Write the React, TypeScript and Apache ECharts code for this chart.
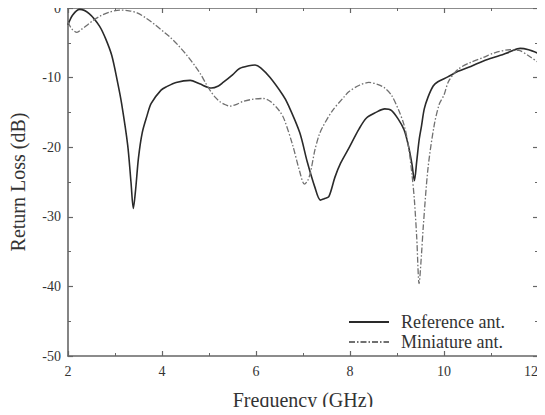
import React, { useEffect, useRef } from "react";
import * as echarts from "echarts";

const refFreq = [2.0, 2.1, 2.25, 2.45, 2.67, 2.8, 2.93, 3.05, 3.14, 3.27, 3.34, 3.39, 3.44, 3.5, 3.58, 3.68, 3.77, 3.98, 4.1, 4.3, 4.6, 4.8, 5.05, 5.2, 5.3, 5.5, 5.65, 5.85, 5.98, 6.1, 6.3, 6.57, 6.67, 6.93, 7.09, 7.25, 7.37, 7.45, 7.55, 7.68, 7.8, 7.97, 8.19, 8.35, 8.55, 8.74, 8.88, 9.03, 9.15, 9.24, 9.32, 9.37, 9.42, 9.47, 9.52, 9.58, 9.66, 9.77, 9.87, 10.08, 10.3, 10.57, 10.84, 11.2, 11.4, 11.62, 11.8, 12.0];
const refLoss = [-2.4, -1.0, -0.2, -0.8, -2.6, -4.4, -6.8, -10.5, -13.7, -19.7, -25.0, -28.8, -26.0, -21.5, -17.9, -15.5, -13.7, -11.8, -11.3, -10.7, -10.4, -10.9, -11.5, -11.2, -10.7, -9.6, -8.7, -8.3, -8.2, -8.6, -10.0, -12.5, -13.7, -17.9, -22.1, -25.7, -27.6, -27.4, -27.1, -24.3, -22.3, -20.2, -17.4, -15.8, -15.0, -14.5, -14.7, -16.0, -17.5, -19.7, -22.5, -24.8, -22.0, -19.0, -17.0, -14.5, -12.8, -11.2, -10.6, -9.9, -9.1, -8.4, -7.6, -6.8, -6.3, -5.8, -6.0, -6.5];

const miniFreq = [2.0, 2.08, 2.19, 2.3, 2.42, 2.53, 2.7, 2.88, 3.1, 3.3, 3.47, 3.65, 3.85, 4.05, 4.19, 4.35, 4.53, 4.7, 4.82, 4.93, 5.03, 5.13, 5.24, 5.35, 5.45, 5.6, 5.73, 5.95, 6.15, 6.3, 6.5, 6.6, 6.78, 6.93, 7.03, 7.1, 7.16, 7.25, 7.34, 7.41, 7.62, 7.87, 7.98, 8.2, 8.4, 8.6, 8.74, 8.88, 9.03, 9.15, 9.24, 9.32, 9.37, 9.42, 9.47, 9.52, 9.56, 9.66, 9.79, 9.9, 10.0, 10.1, 10.3, 10.57, 10.84, 11.05, 11.4, 11.6, 11.83, 12.0];
const miniLoss = [-2.0, -3.0, -3.5, -3.0, -2.4, -1.8, -1.1, -0.6, -0.3, -0.4, -0.7, -1.4, -2.4, -3.5, -4.3, -5.4, -6.8, -8.3, -9.5, -10.8, -11.9, -12.8, -13.5, -13.9, -14.1, -13.8, -13.4, -13.1, -13.0, -13.4, -14.8, -16.0, -19.7, -23.5, -25.3, -24.8, -23.6, -20.5, -18.3, -17.2, -14.8, -12.8, -12.0, -11.1, -10.7, -11.0, -11.5, -12.5, -14.6, -16.8, -19.7, -24.0, -27.6, -33.0, -39.6, -35.5, -31.3, -23.0, -16.9, -13.8, -12.5, -10.5, -8.8, -7.8, -7.1, -6.5, -6.0, -6.1, -7.0, -7.8];

const seriesNames = ["Reference ant.", "Miniature ant."];
const xTitle = "Frequency (GHz)";
const yTitle = "Return Loss (dB)";

const FONT = "Liberation Serif";
const AXIS_COLOR = "#666";

export default function App() {
  const ref = useRef<HTMLDivElement>(null);
  useEffect(() => {
    if (!ref.current) return;
    const chart = echarts.init(ref.current, null, { renderer: "svg" });
    const axisCommon = {
      type: "value" as const,
      axisLine: { show: true, onZero: false, lineStyle: { color: AXIS_COLOR, width: 1.6 } },
      axisTick: { show: true, inside: true, length: 5, lineStyle: { color: AXIS_COLOR, width: 1.2 } },
      minorTick: { show: true, splitNumber: 2, length: 3, lineStyle: { color: AXIS_COLOR, width: 1 } },
      splitLine: { show: false },
      minorSplitLine: { show: false },
    };
    const labelStyle = { fontFamily: FONT, fontSize: 14, color: "#333" };
    chart.setOption({
      animation: false,
      backgroundColor: "#fff",
      grid: { left: 63, right: 7, top: 8, bottom: 50 },
      legend: {
        data: seriesNames,
        orient: "vertical",
        left: 343,
        top: 308,
        itemWidth: 40,
        itemHeight: 12,
        itemGap: 2,
        itemStyle: { opacity: 0 },
        textStyle: { fontFamily: FONT, fontSize: 18, color: "#333", padding: [0, 0, 0, 7] },
      },
      xAxis: [
        {
          ...axisCommon,
          min: 2,
          max: 12,
          interval: 2,
          position: "bottom",
          name: xTitle,
          nameLocation: "middle",
          nameGap: 34,
          nameTextStyle: { fontFamily: FONT, fontSize: 20, color: "#333" },
          axisLabel: { ...labelStyle, margin: 8, alignMaxLabel: "right" },
        },
        {
          ...axisCommon,
          min: 2,
          max: 12,
          interval: 2,
          position: "top",
          axisLabel: { show: false },
        },
      ],
      yAxis: [
        {
          ...axisCommon,
          min: -50,
          max: 0,
          interval: 10,
          position: "left",
          name: yTitle,
          nameLocation: "middle",
          nameGap: 40,
          nameTextStyle: { fontFamily: FONT, fontSize: 20, color: "#333" },
          axisLabel: { ...labelStyle, margin: 7 },
        },
        {
          ...axisCommon,
          min: -50,
          max: 0,
          interval: 10,
          position: "right",
          axisLabel: { show: false },
        },
      ],
      series: [
        {
          name: seriesNames[0],
          type: "line",
          symbol: "none",
          smooth: 0.3,
          data: refFreq.map((f, i) => [f, refLoss[i]]),
          lineStyle: { color: "#2a2a2a", width: 1.6 },
          itemStyle: { color: "#2a2a2a" },
        },
        {
          name: seriesNames[1],
          type: "line",
          symbol: "none",
          smooth: 0.3,
          data: miniFreq.map((f, i) => [f, miniLoss[i]]),
          lineStyle: { color: "#707070", width: 1.3, type: [6, 2, 1.5, 2] },
          itemStyle: { color: "#707070" },
        },
      ],
    });
    return () => chart.dispose();
  }, []);
  return <div ref={ref} style={{ width: 545, height: 415, margin: -8 }} />;
}
